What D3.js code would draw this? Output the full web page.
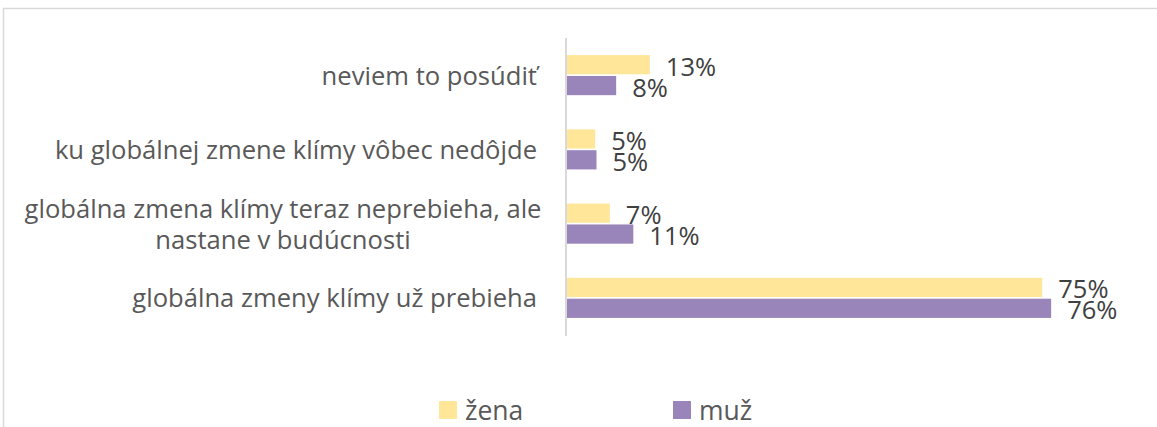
<!DOCTYPE html>
<html>
<head>
<meta charset="utf-8">
<script src="https://cdn.jsdelivr.net/npm/d3@7"></script>
<style>
  body { margin: 0; background: #fff; }
  text { font-family: "Open Sans", "Noto Sans", sans-serif; }
</style>
</head>
<body>
<div id="chart"></div>
<script>
// categories, top to bottom
const categories = [
    ["neviem to posúdiť"],
    ["ku globálnej zmene klímy vôbec nedôjde"],
    ["globálna zmena klímy teraz neprebieha, ale", "nastane v budúcnosti"],
    ["globálna zmeny klímy už prebieha"]
];
const seriesNames = ["žena", "muž"];
const zenaValues = [0.132, 0.046, 0.069, 0.75];
const muzValues = [0.079, 0.048, 0.106, 0.764];

const colors = ["#FFE699", "#9985BA"];

const width = 1157, height = 427;
const margin = {top: 38, left: 566, bottom: 92};

const data = categories.map(function(c, i) {
    return {key: c.join(" "), lines: c, values: [zenaValues[i], muzValues[i]]};
});

const svg = d3.select("#chart")
    .append("svg")
    .attr("width", width)
    .attr("height", height);

// outer border
svg.append("rect")
    .attr("x", 3.5).attr("y", 8.5)
    .attr("width", width + 10).attr("height", height + 10)
    .attr("fill", "none")
    .attr("stroke", "#d9d9d9")
    .attr("stroke-width", 1.5);

// scales
const yScale = d3.scaleBand()
    .domain(data.map(d => d.key))
    .range([margin.top, height - margin.bottom])
    .paddingInner(0.46)
    .paddingOuter(0.23);

const subScale = d3.scaleBand()
    .domain(seriesNames)
    .range([0, yScale.bandwidth()])
    .paddingInner(0.08);

const xScale = d3.scaleLinear()
    .domain([0, 1])
    .range([margin.left, margin.left + 635]);

// bars
const groups = svg.selectAll(".group")
    .data(data)
    .enter()
    .append("g")
    .attr("transform", d => `translate(0,${yScale(d.key)})`);

groups.selectAll("rect")
    .data(d => d.values.map((v, i) => ({name: seriesNames[i], value: v, i: i})))
    .enter()
    .append("rect")
    .attr("x", xScale(0))
    .attr("y", d => subScale(d.name))
    .attr("width", d => xScale(d.value) - xScale(0))
    .attr("height", subScale.bandwidth())
    .attr("fill", d => colors[d.i]);

groups.selectAll(".val")
    .data(d => d.values.map((v, i) => ({name: seriesNames[i], value: v})))
    .enter()
    .append("text")
    .attr("x", d => xScale(d.value) + 16)
    .attr("y", d => subScale(d.name) + subScale.bandwidth() / 2 + 1)
    .attr("dominant-baseline", "central")
    .attr("font-size", 25.5)
    .attr("fill", "#404040")
    .text(d => d3.format(".0%")(d.value));

// axis line
svg.append("line")
    .attr("x1", xScale(0)).attr("x2", xScale(0))
    .attr("y1", margin.top).attr("y2", height - margin.bottom + 1)
    .attr("stroke", "#d9d9d9")
    .attr("stroke-width", 2);

// category labels
const lineH = 31;
data.forEach(function(d) {
    const cy = yScale(d.key) + yScale.bandwidth() / 2;
    const n = d.lines.length;
    d.lines.forEach(function(line, j) {
        svg.append("text")
            .attr("x", n > 1 ? 283 : margin.left - 29)
            .attr("y", cy + (j - (n - 1) / 2) * lineH)
            .attr("text-anchor", n > 1 ? "middle" : "end")
            .attr("dominant-baseline", "central")
            .attr("font-size", 25.6)
            .attr("fill", "#595959")
            .text(line);
    });
});

// legend
const legendX = [439, 673];
seriesNames.forEach(function(name, i) {
    svg.append("rect")
        .attr("x", legendX[i]).attr("y", 401)
        .attr("width", 18).attr("height", 18)
        .attr("fill", colors[i]);
    svg.append("text")
        .attr("x", legendX[i] + 26)
        .attr("y", 410)
        .attr("dominant-baseline", "central")
        .attr("font-size", 26.5)
        .attr("fill", "#595959")
        .text(name);
});
</script>
</body>
</html>
